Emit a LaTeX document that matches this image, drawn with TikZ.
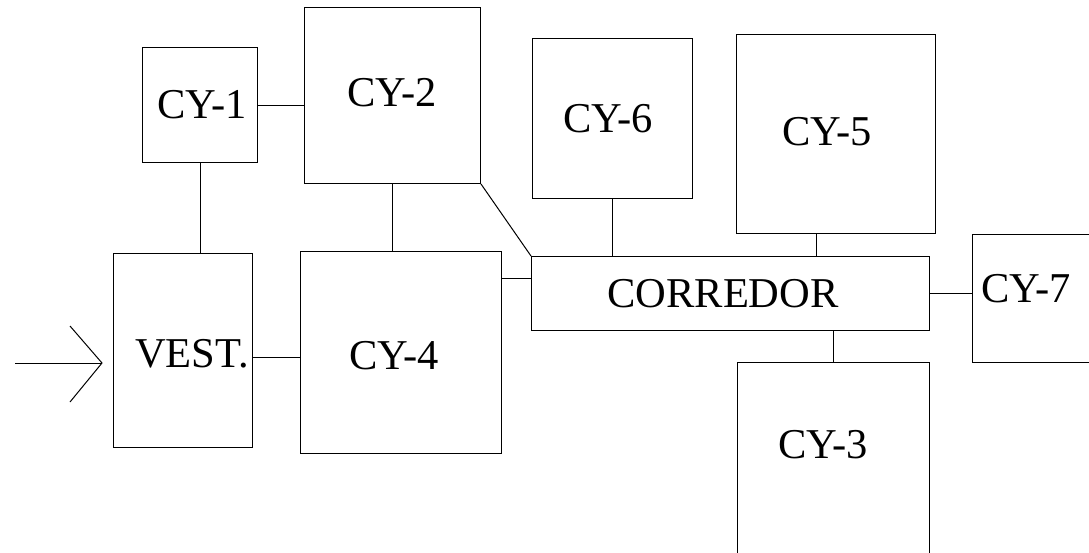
\documentclass[tikz,border=0pt]{standalone}
\usepackage{fontspec}
\setmainfont{Liberation Serif}
\begin{document}
\begin{tikzpicture}[x=1pt,y=-1pt,
  roombox/.style={draw=black, line width=1pt, rectangle, inner sep=0pt, anchor=north west},
  lbl/.style={anchor=base, inner sep=0pt, font=\fontsize{42.5}{50}\selectfont},
  conn/.style={draw=black, line width=1pt}]
\useasboundingbox (0,0) rectangle (1089,552);
\clip (0,0) rectangle (1089,552);
% rooms
\node[roombox, minimum width=115pt, minimum height=115pt] (cy1) at (142,47) {};
\node[roombox, minimum width=176pt, minimum height=176pt] (cy2) at (304,7) {};
\node[roombox, minimum width=139pt, minimum height=194pt] (vest) at (113,253) {};
\node[roombox, minimum width=201pt, minimum height=202pt] (cy4) at (300,251) {};
\node[roombox, minimum width=398pt, minimum height=74pt] (corr) at (531,256) {};
\node[roombox, minimum width=160pt, minimum height=160pt] (cy6) at (532,38) {};
\node[roombox, minimum width=199pt, minimum height=199pt] (cy5) at (736,34) {};
\node[roombox, minimum width=140pt, minimum height=128pt] (cy7) at (972,234) {};
\node[roombox, minimum width=192pt, minimum height=200pt] (cy3) at (737,362) {};
% labels
\node[lbl] (l1) at (202,118) {CY-1};
\node[lbl] (l2) at (392,106) {CY-2};
\node[lbl] (lv) at (192,367) {VEST.};
\node[lbl] (l4) at (394,369) {CY-4};
\node[lbl] (lc) at (723,307) {CORREDOR};
\node[lbl] (l6) at (608,132) {CY-6};
\node[lbl] (l5) at (827,145) {CY-5};
\node[lbl] (l7) at (1026,302) {CY-7};
\node[lbl] (l3) at (823,458) {CY-3};
% connectors
\draw[conn] (cy1.east) -- (cy1.east -| cy2.west);
\draw[conn] (cy1.south) -- (cy1.south |- vest.north);
\draw[conn] (cy2.south) -- (cy2.south |- cy4.north);
\draw[conn] (cy2.south east) -- (corr.north west);
\draw[conn] ([yshift=-27pt]cy4.north east) -- ([yshift=-22pt]corr.north west);
\draw[conn] ([yshift=-104pt]vest.north east) -- ([yshift=-106pt]cy4.north west);
\draw[conn] (cy6.south) -- (cy6.south |- corr.north);
\draw[conn] ([xshift=-20pt]cy5.south) -- ([xshift=-20pt]cy5.south |- corr.north);
\draw[conn] (corr.east) -- (corr.east -| cy7.west);
\draw[conn] (cy3.north) -- (cy3.north |- corr.south);
% entrance arrow
\coordinate (atail) at (15,363);
\coordinate (atip) at (102,363);
\coordinate (awa) at (70,326);
\coordinate (awb) at (70,402);
\draw[conn] (atail) -- (atip);
\draw[conn] (awa) -- (atip) -- (awb);
\end{tikzpicture}
\end{document}
